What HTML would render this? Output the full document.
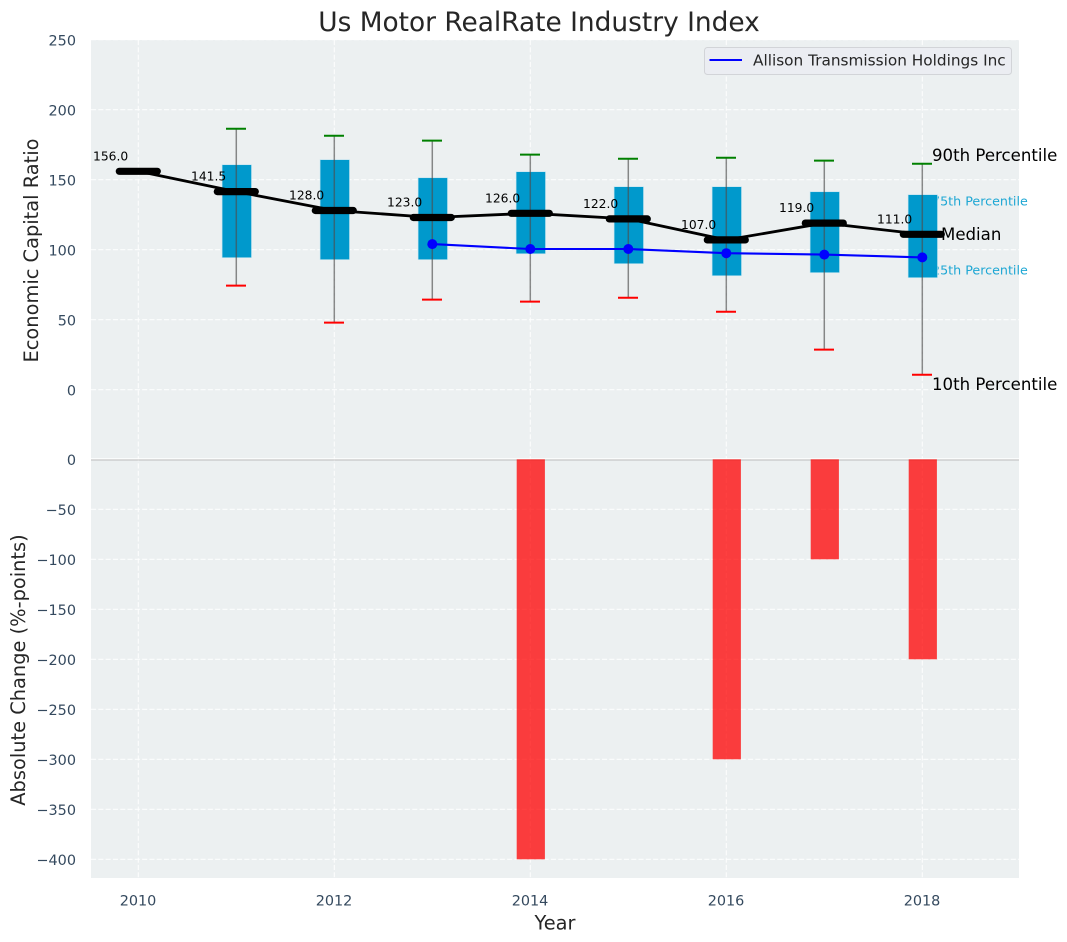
<!DOCTYPE html>
<html>
<head>
<meta charset="utf-8">
<title>Us Motor RealRate Industry Index</title>
<style>
html,body{margin:0;padding:0;background:#fff;width:1067px;height:942px;overflow:hidden}
svg{display:block;font-family:"DejaVu Sans","Liberation Sans",sans-serif}
</style>
</head>
<body>
<svg id="chart" width="1067" height="942" viewBox="0 0 1067 942" xmlns="http://www.w3.org/2000/svg">
  <rect x="91" y="40" width="928" height="420" fill="#ecf0f1"/>
  <rect x="91" y="460" width="928" height="418" fill="#ecf0f1"/>
  <g id="grid"></g>
  <text x="932" y="161" font-size="16.6" fill="#000">90th Percentile</text>
  <text x="932" y="205.500" font-size="12.700" fill="#1ea7d4">75th Percentile</text>
  <text x="932" y="274.500" font-size="12.700" fill="#1ea7d4">25th Percentile</text>
  <text x="932" y="390" font-size="16.6" fill="#000">10th Percentile</text>
  <g id="bars"></g>
  <g id="boxes"></g>
  <g id="medians"></g>
  <g id="company"></g>
  <text x="941" y="240" font-size="16.6" fill="#000">Median</text>
  <g id="ticks"></g>
  <text x="539" y="31" font-size="26.4" text-anchor="middle" fill="#262626">Us Motor RealRate Industry Index</text>
  <text x="555" y="929.300" font-size="19.4" text-anchor="middle" fill="#262626">Year</text>
  <text transform="translate(38,250.500) rotate(-90)" font-size="19.4" text-anchor="middle" fill="#262626">Economic Capital Ratio</text>
  <text transform="translate(25,670) rotate(-90)" font-size="19.4" text-anchor="middle" fill="#262626">Absolute Change (%-points)</text>
  <g>
    <rect x="704.500" y="47.500" width="307" height="27" rx="3" fill="#ebedf2" stroke="#d2d4d8" stroke-width="1"/>
    <line x1="709.500" x2="742" y1="60" y2="60" stroke="#0000ff" stroke-width="2"/>
    <text x="753" y="65.500" font-size="15.3" fill="#262626">Allison Transmission Holdings Inc</text>
  </g>
</svg>
<script>
var years = [2010, 2011, 2012, 2013, 2014, 2015, 2016, 2017, 2018];
var medianValues = [156, 141.5, 128, 123, 126, 122, 107, 119, 111];
var boxYears = [2011, 2012, 2013, 2014, 2015, 2016, 2017, 2018];
var p90Values = [186.4, 181.4, 177.9, 167.9, 165, 165.7, 163.6, 161.4];
var p75Values = [160.7, 164.3, 151.4, 155.7, 145, 145, 141.4, 139.3];
var p25Values = [94.3, 92.9, 92.9, 97.1, 90, 81.4, 83.6, 80];
var p10Values = [74.3, 47.9, 64.3, 62.9, 65.7, 55.7, 28.6, 10.7];
var companyYears = [2013, 2014, 2015, 2016, 2017, 2018];
var companyValues = [104, 100.5, 100.5, 97.5, 96.5, 94.5];
var changeYears = [2014, 2016, 2017, 2018];
var changeValues = [-400, -300, -100, -200];
var xTicks = [2010, 2012, 2014, 2016, 2018];
var topYTicks = [0, 50, 100, 150, 200, 250];
var bottomYTicks = [0, -50, -100, -150, -200, -250, -300, -350, -400];

var NS = 'http://www.w3.org/2000/svg';
function X(v) { return 138.3 + (v - 2010) * 98; }
function YT(v) { return 389.7 - v * 1.4; }
function YB(v) { return 459.3 - v * 1; }
function make(parent, tag, attrs, txt) {
  var el = document.createElementNS(NS, tag);
  for (var k in attrs) el.setAttribute(k, attrs[k]);
  if (txt !== undefined) el.textContent = txt;
  document.getElementById(parent).appendChild(el);
  return el;
}
var el, i, x;
var GRID_DASH = '5.1 2.2';

// grid
xTicks.forEach(function (t) {
  el = make('grid', 'line', {x1: X(t), x2: X(t), y1: 40, y2: 878, stroke: '#ffffff', 'stroke-opacity': 0.85, 'stroke-width': 1.1, 'stroke-dasharray': GRID_DASH});
  
  
});
topYTicks.forEach(function (t) {
  el = make('grid', 'line', {x1: 91, x2: 1019, y1: YT(t), y2: YT(t), stroke: '#ffffff', 'stroke-opacity': 0.85, 'stroke-width': 1.1, 'stroke-dasharray': GRID_DASH});
  
  
});
bottomYTicks.forEach(function (t) {
  if (t === 0) return;
  el = make('grid', 'line', {x1: 91, x2: 1019, y1: YB(t), y2: YB(t), stroke: '#ffffff', 'stroke-opacity': 0.85, 'stroke-width': 1.1, 'stroke-dasharray': GRID_DASH});
  
  
});
el = make('grid', 'line', {x1: 91, x2: 1019, y1: 458.8, y2: 458.8, stroke: '#ffffff', 'stroke-width': 1});


el = make('grid', 'line', {x1: 91, x2: 1019, y1: 460, y2: 460, stroke: '#bdbdbd', 'stroke-width': 1});



// change bars
for (i = 0; i < changeYears.length; i++) {
  x = X(changeYears[i]);
  el = make('bars', 'rect', {x: x - 13.6, y: YB(0), width: 28.2, height: YB(changeValues[i]) - YB(0), fill: '#ff0000', 'fill-opacity': 0.75});
  
  
}

// boxes and whiskers
for (i = 0; i < boxYears.length; i++) {
  x = X(boxYears[i]);
  el = make('boxes', 'rect', {x: x - 14.2, y: YT(p75Values[i]), width: 29.4, height: YT(p25Values[i]) - YT(p75Values[i]), fill: '#0099cc', stroke: '#bfe3ef', 'stroke-width': 0.6});
  
  
  el = make('boxes', 'line', {x1: x, x2: x, y1: YT(p90Values[i]), y2: YT(p10Values[i]), stroke: '#4d4d4d', 'stroke-opacity': 0.65, 'stroke-width': 1.5});
  
  
  el = make('boxes', 'line', {x1: x - 10.3, x2: x + 9.7, y1: YT(p90Values[i]), y2: YT(p90Values[i]), stroke: '#008000', 'stroke-width': 2});
  
  
  el = make('boxes', 'line', {x1: x - 10.3, x2: x + 9.7, y1: YT(p10Values[i]), y2: YT(p10Values[i]), stroke: '#ff0000', 'stroke-width': 2});
  
  
}

// median line, dashes, value labels
var medianPts = years.map(function (y, j) { return X(y) + ',' + YT(medianValues[j]); }).join(' ');
el = make('medians', 'polyline', {points: medianPts, fill: 'none', stroke: '#000000', 'stroke-width': 2.8});


for (i = 0; i < years.length; i++) {
  x = X(years[i]);
  el = make('medians', 'line', {x1: x - 19, x2: x + 19, y1: YT(medianValues[i]), y2: YT(medianValues[i]), stroke: '#000000', 'stroke-width': 7.2, 'stroke-linecap': 'round'});
  
  
  el = make('medians', 'text', {x: x - 45.3, y: YT(medianValues[i]) - 11, 'font-size': 12.3, fill: '#000000'}, medianValues[i].toFixed(1));
  
  
}

// company series
var companyPts = companyYears.map(function (y, j) { return X(y) + ',' + YT(companyValues[j]); }).join(' ');
el = make('company', 'polyline', {points: companyPts, fill: 'none', stroke: '#0000ff', 'stroke-width': 2.1});


for (i = 0; i < companyYears.length; i++) {
  el = make('company', 'circle', {cx: X(companyYears[i]), cy: YT(companyValues[i]), r: 5, fill: '#0000ff'});
  
  
}

// tick labels
xTicks.forEach(function (t) {
  el = make('ticks', 'text', {x: X(t) - 0.3, y: 905.5, 'font-size': 14.4, 'text-anchor': 'middle', fill: '#34495e'}, String(t));
  
  
});
topYTicks.forEach(function (t) {
  el = make('ticks', 'text', {x: 76, y: YT(t) + 5.6, 'font-size': 14.4, 'text-anchor': 'end', fill: '#34495e'}, String(t));
  
  
});
bottomYTicks.forEach(function (t) {
  el = make('ticks', 'text', {x: 76, y: YB(t) + 5.6, 'font-size': 14.4, 'text-anchor': 'end', fill: '#34495e'}, String(t).replace('-', '\u2212'));
  
  
});
</script>
</body>
</html>
